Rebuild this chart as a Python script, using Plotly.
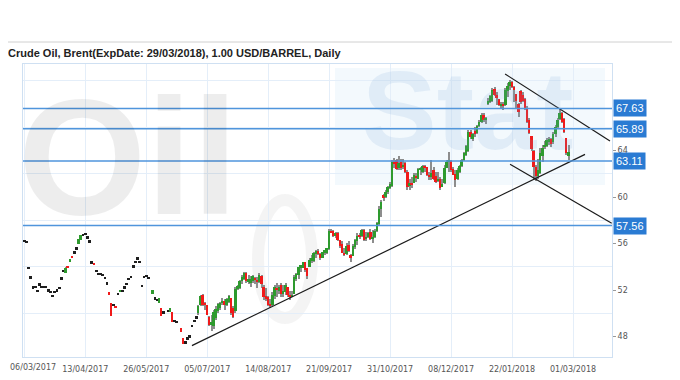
import plotly.graph_objects as go

# ---------------- data ----------------
tick_labels = ["06/03/2017", "13/04/2017", "26/05/2017", "05/07/2017", "14/08/2017",
               "21/09/2017", "31/10/2017", "08/12/2017", "22/01/2018", "01/03/2018"]
tick_bars = [0, 28, 56, 84, 112, 140, 168, 196, 224, 252]

opens = [
    56.25, 56.17, 53.93, 53.10, 52.25, 52.30, 51.96, 52.50, 52.30, 52.30,
    52.30, 51.99, 51.87, 51.53, 51.87, 51.99, 52.21, 53.02, 53.67, 53.50,
    54.05, 54.45, 54.95, 55.26, 55.60, 56.00, 56.30, 56.75, 56.83, 56.55,
    56.20, 54.40, 54.30, 53.65, 53.39, 53.39, 53.30, 53.07, 52.59, 51.75,
    50.90, 50.73, 50.60, 51.67, 51.90, 51.96, 52.25, 52.55, 53.00, 53.13,
    54.05, 54.45, 54.74, 54.45, 52.36, 53.16, 53.22, 53.07, None, 51.65,
    51.30, 51.20, 50.87, 50.50, 50.10, None, 50.20, 50.15, 50.10, 49.35,
    49.29, None, 48.77, 47.86, 47.52, 47.86, 48.03, 48.92, 49.38, 49.67,
    50.0, 50.7, 51.6, 50.9, 50.7, 49.7, 49.0, 48.9, 49.6, 50.2,
    50.5, 50.9, 51.1, 50.7, 51.0, 51.3, 50.5, 50.2, 52.2, 52.2,
    52.8, 53.0, 53.5, 52.8, 52.6, 52.8, 53.0, 52.9, 52.7, 53.2,
    52.3, 51.5, 51.4, 50.8, 50.7, 51.5, 52.2, 51.9, 52.4, 51.7,
    51.8, 52.3, 51.6, 51.5, 51.7, 53.0, 53.3, 54.0, 53.9, 54.4,
    53.9, 54.0, 54.6, 54.5, 55.2, 55.3, 55.1, 54.8, 55.3, 55.2,
    55.5, 57.1, 57.1, 56.7, 56.9, 56.3, 56.0, 55.2, 55.1, 55.9,
    55.0, 54.9, 55.7, 56.2, 56.7, 56.7, 57.2, 56.4, 56.6, 57.0,
    56.4, 56.6, 57.1, 57.7, 59.0, 60.2, 60.0, 60.4, 60.8, 61.0,
    63.0, 63.2, 62.5, 63.0, 62.6, 62.9, 62.2, 61.0, 61.2, 61.2,
    61.8, 61.6, 62.3, 62.2, 62.7, 62.6, 61.9, 61.7, 62.3, 61.8,
    61.4, 61.6, 60.9, 61.2, 62.5, 63.0, 63.1, 62.4, 62.0, 61.6,
    62.2, 62.7, 63.2, 63.6, 64.0, 65.6, 65.0, 65.7, 65.5, 66.1,
    66.5, 67.1, 66.6, 68.0, 68.2, 68.3, 69.3, 68.8, 68.4, 67.9,
    68.0, 67.9, 69.1, 69.6, 69.9, 69.5, 68.9, 68.0, 69.1, 68.8,
    68.4, 67.6, 66.6, 65.3, 64.0, 62.6, 61.8, 62.1, 63.5, 64.3,
    64.4, 64.7, 65.0, 64.7, 65.4, 66.0, 66.7, 67.2, 66.7, 65.1,
    63.5,
]
highs = [
    56.25, 56.17, 53.93, 53.10, 52.25, 52.30, 51.96, 52.50, 52.30, 52.30,
    52.30, 51.99, 51.87, 51.53, 51.87, 51.99, 52.21, 53.02, 53.67, 53.95,
    54.05, 54.70, 54.95, 55.26, 55.60, 56.40, 56.75, 56.75, 56.83, 56.55,
    56.20, 54.40, 54.30, 53.65, 53.39, 53.39, 53.30, 53.07, 52.59, 51.75,
    50.90, 50.73, 50.60, 51.67, 52.00, 51.96, 52.25, 52.55, 53.00, 53.13,
    54.05, 54.45, 54.74, 54.45, 52.36, 53.16, 53.22, 53.07, None, 52.00,
    51.30, 51.20, 51.35, 50.50, 50.10, None, 50.20, 50.50, 50.10, 49.35,
    49.29, None, 48.77, 47.86, 47.52, 47.86, 48.03, 48.92, 49.38, 49.67,
    50.7, 51.6, 51.7, 51.0, 50.73, 49.8, 49.9, 50.3, 50.6, 50.87,
    51.0, 51.3, 51.2, 51.3, 51.6, 51.35, 50.6, 52.3, 52.45, 52.9,
    53.3, 53.6, 53.6, 53.3, 53.2, 53.3, 53.1, 53.1, 53.5, 53.3,
    52.4, 52.2, 51.5, 51.2, 51.8, 52.45, 52.6, 52.45, 52.6, 52.45,
    52.6, 52.3, 51.9, 51.9, 53.3, 53.5, 54.0, 54.2, 54.45, 54.45,
    53.9, 54.75, 55.0, 55.3, 55.45, 55.5, 55.2, 55.3, 55.45, 55.6,
    57.3, 57.3, 57.2, 57.0, 57.0, 56.3, 56.2, 55.6, 56.05, 56.2,
    55.1, 56.0, 56.4, 56.9, 56.9, 57.3, 57.3, 57.0, 57.0, 57.3,
    57.2, 57.3, 57.9, 59.2, 59.75, 60.3, 60.6, 61.0, 61.3, 63.2,
    63.4, 63.3, 63.5, 63.3, 63.3, 63.05, 62.3, 61.6, 61.75, 62.05,
    62.05, 62.5, 62.6, 62.76, 62.76, 62.6, 62.2, 63.2, 62.6, 62.2,
    62.2, 61.75, 61.6, 62.76, 63.2, 63.9, 63.2, 62.6, 62.3, 62.5,
    62.76, 63.3, 63.9, 64.5, 65.77, 65.8, 65.5, 66.0, 66.2, 66.6,
    67.2, 67.2, 66.9, 68.5, 68.8, 69.35, 69.5, 69.07, 68.4, 68.2,
    68.2, 69.35, 69.8, 70.07, 70.0, 69.6, 68.9, 68.07, 69.2, 69.0,
    68.5, 67.8, 66.8, 65.3, 64.05, 62.8, 63.3, 64.2, 64.5, 64.8,
    65.1, 65.2, 65.1, 65.6, 66.2, 66.8, 67.6, 67.3, 66.8, 65.1,
    64.5,
]
lows = [
    56.25, 56.17, 53.93, 53.10, 52.25, 52.30, 51.96, 52.50, 52.30, 52.30,
    52.30, 51.99, 51.87, 51.53, 51.87, 51.99, 52.21, 53.02, 53.67, 53.50,
    53.95, 54.45, 54.85, 55.26, 55.60, 56.00, 56.30, 56.75, 56.83, 56.55,
    56.20, 54.40, 54.25, 53.65, 53.39, 53.39, 53.30, 53.07, 52.59, 51.70,
    49.75, 50.73, 50.55, 51.67, 51.90, 51.96, 52.25, 52.55, 53.00, 53.13,
    54.05, 54.45, 54.74, 54.45, 52.36, 53.16, 53.22, 53.07, None, 51.65,
    51.30, 51.20, 50.87, 49.80, 50.10, None, 50.20, 50.15, 49.30, 49.35,
    49.29, None, 48.38, 47.35, 47.52, 47.86, 48.03, 48.92, 49.38, 49.67,
    49.9, 50.6, 50.6, 50.3, 49.87, 48.9, 48.45, 48.7, 49.4, 50.0,
    50.3, 50.7, 50.3, 50.6, 50.9, 49.9, 49.6, 50.0, 52.0, 52.1,
    52.5, 52.9, 52.6, 52.5, 52.3, 52.6, 52.5, 52.2, 52.6, 52.2,
    51.15, 51.1, 50.6, 50.45, 50.6, 51.2, 51.45, 51.7, 51.45, 51.45,
    51.6, 51.45, 51.15, 51.45, 51.7, 52.8, 53.0, 53.6, 53.9, 53.6,
    53.0, 54.0, 54.3, 54.45, 54.75, 55.0, 54.6, 54.75, 55.0, 55.15,
    55.45, 56.9, 56.6, 56.5, 56.2, 55.6, 55.2, 54.9, 55.0, 55.3,
    54.45, 54.9, 55.5, 55.9, 56.4, 56.6, 56.2, 56.2, 56.5, 56.3,
    56.05, 56.5, 57.0, 57.6, 58.3, 59.7, 59.9, 60.3, 60.7, 60.9,
    62.5, 62.3, 62.3, 62.3, 62.4, 62.1, 60.6, 60.6, 60.8, 61.2,
    61.3, 61.6, 61.9, 62.05, 62.2, 61.8, 61.5, 61.5, 61.5, 61.2,
    61.3, 60.6, 60.9, 61.1, 62.5, 62.2, 62.2, 61.9, 60.9, 61.5,
    62.05, 62.6, 63.1, 63.5, 63.9, 65.0, 64.8, 65.2, 65.4, 66.0,
    66.4, 66.5, 66.3, 67.9, 68.1, 68.2, 68.7, 67.9, 67.8, 67.6,
    67.5, 67.8, 68.6, 69.2, 69.35, 68.2, 67.6, 66.9, 68.0, 68.2,
    67.5, 66.35, 65.4, 64.0, 61.5, 61.4, 61.6, 62.0, 63.05, 64.1,
    64.3, 64.5, 64.3, 64.6, 65.2, 65.9, 66.6, 66.35, 65.5, 63.6,
    63.2,
]
closes = [
    56.25, 56.17, 53.93, 53.10, 52.25, 52.30, 51.96, 52.50, 52.30, 52.30,
    52.30, 51.99, 51.87, 51.53, 51.87, 51.99, 52.21, 53.02, 53.67, 53.93,
    53.95, 54.70, 54.85, 55.26, 55.60, 56.40, 56.75, 56.75, 56.83, 56.55,
    56.20, 54.40, 54.25, 53.65, 53.39, 53.39, 53.30, 53.07, 52.59, 51.70,
    49.75, 50.73, 50.55, 51.67, 52.00, 51.96, 52.25, 52.55, 53.00, 53.13,
    54.05, 54.45, 54.74, 54.45, 52.36, 53.16, 53.22, 53.07, None, 52.00,
    51.30, 51.20, 51.35, 49.80, 50.10, None, 50.20, 50.50, 49.30, 49.35,
    49.29, None, 48.38, 47.35, 47.52, 47.86, 48.03, 48.92, 49.38, 49.67,
    50.6, 51.5, 50.7, 50.7, 49.9, 49.0, 49.3, 50.1, 50.4, 50.8,
    50.9, 51.1, 50.7, 51.2, 51.5, 50.0, 49.7, 52.1, 52.3, 52.8,
    53.1, 53.5, 52.8, 52.9, 53.0, 53.2, 52.9, 52.7, 53.3, 52.5,
    51.4, 51.2, 50.7, 50.6, 51.6, 52.3, 52.1, 52.3, 51.7, 51.9,
    52.4, 51.6, 51.5, 51.6, 53.1, 53.4, 54.0, 54.1, 54.4, 53.7,
    53.2, 54.6, 54.7, 55.2, 55.3, 55.2, 54.8, 55.3, 55.4, 55.6,
    57.1, 57.0, 56.7, 56.9, 56.3, 55.8, 55.2, 55.1, 55.8, 55.4,
    54.8, 55.8, 56.3, 56.7, 56.6, 57.2, 56.3, 56.6, 56.9, 56.4,
    56.6, 57.1, 57.8, 59.0, 59.6, 59.9, 60.4, 60.9, 61.1, 63.0,
    62.9, 62.4, 62.9, 62.5, 62.8, 62.2, 60.9, 61.2, 61.1, 61.9,
    61.7, 62.4, 62.5, 62.7, 62.5, 61.9, 61.7, 62.1, 61.6, 61.3,
    61.6, 60.8, 61.1, 62.5, 63.0, 63.2, 62.3, 61.9, 61.5, 62.3,
    62.7, 63.2, 63.8, 64.4, 65.6, 65.2, 65.4, 65.4, 66.1, 66.5,
    67.1, 66.6, 66.8, 68.3, 68.7, 69.2, 68.8, 68.5, 67.9, 68.0,
    67.8, 69.2, 69.6, 69.9, 69.5, 69.2, 68.3, 67.3, 68.2, 68.3,
    67.6, 66.5, 65.5, 64.1, 62.6, 61.8, 62.3, 63.8, 64.2, 64.5,
    64.9, 65.0, 64.6, 65.4, 66.0, 66.6, 67.2, 66.5, 65.6, 63.8,
    63.9,
]

level_values = [67.63, 65.89, 63.11, 57.56]
level_labels = ["67.63", "65.89", "63.11", "57.56"]

y_label_vals = [48, 52, 56, 60, 64]
y_grid_vals = [50, 54, 58, 62, 66, 70]

# analyst trend lines (bar index, price)
trend_up_x, trend_up_y = [76.98, 257.51], [47.23, 63.68]
chan_top_x, chan_top_y = [220.79, 268.98], [70.59, 64.83]
chan_bot_x, chan_bot_y = [223.08, 269.76], [62.82, 57.75]

title_text = "Crude Oil, Brent(ExpDate: 29/03/2018), 1.00 USD/BARREL, Daily"

# ---------------- styling ----------------
GREEN = "#2e9a2e"
RED = "#f01a1a"
WICK = "#8d8d8d"
DOJI = "#1e1e1e"
LEVEL = "#4f95dc"
GRID = "#e4eef9"
AXIS = "#cfe0f2"
TICKFONT = dict(family="DejaVu Sans", size=8, color="#555")

# the page places the figure 8px from the top-left corner of the window
OFF = 8
FW, FH = 680 - OFF, 380 - OFF
L, R, T, B = 23 - OFF, 68, 64 - OFF, 23
PW, PH = FW - L - R, FH - T - B


def px_x(p):
    """window pixel x -> paper x"""
    return (p - OFF - L) / PW


def px_y(p):
    """window pixel y -> paper y"""
    return (FH - B - (p - OFF)) / PH


wx, wbase, wlen = [], [], []
bx, bbase, blen, bcol, bwid = [], [], [], [], []
for i, (o, h, l, c) in enumerate(zip(opens, highs, lows, closes)):
    if o is None:
        continue
    top, bot = max(h, o, c), min(l, o, c)
    if top - bot > 0.05:
        wx.append(i); wbase.append(bot); wlen.append(top - bot)
    lo_b, hi_b = min(o, c), max(o, c)
    if hi_b - lo_b < 0.15:
        mid = (hi_b + lo_b) / 2
        lo_b, hi_b = mid - 0.075, mid + 0.075
    bx.append(i); bbase.append(lo_b); blen.append(hi_b - lo_b)
    if c > o:
        bcol.append(GREEN); bwid.append(0.9)
    elif c < o:
        bcol.append(RED); bwid.append(0.9)
    else:
        bcol.append(DOJI); bwid.append(1.25)

fig = go.Figure()
fig.add_trace(go.Bar(x=wx, y=wlen, base=wbase, width=0.5,
                     marker=dict(color=WICK, line=dict(width=0)),
                     hoverinfo="skip", showlegend=False))
fig.add_trace(go.Bar(x=bx, y=blen, base=bbase, width=bwid,
                     marker=dict(color=bcol, line=dict(width=0)),
                     hoverinfo="skip", showlegend=False))

for tx, ty in [(trend_up_x, trend_up_y), (chan_top_x, chan_top_y), (chan_bot_x, chan_bot_y)]:
    fig.add_trace(go.Scatter(x=tx, y=ty, mode="lines",
                             line=dict(color="#1a1a1a", width=1.2),
                             hoverinfo="skip", showlegend=False, cliponaxis=False))

shapes = []
# soft light blue glow behind the "Stat" watermark
shapes.append(dict(type="rect", xref="paper", yref="paper", layer="below",
                   x0=px_x(335), x1=px_x(605), y0=px_y(185), y1=px_y(68),
                   fillcolor="rgba(215,234,248,0.30)", line=dict(width=0)))
# faint oil-drop ring of the watermark logo
shapes.append(dict(type="circle", xref="paper", yref="paper", layer="below",
                   x0=px_x(258), x1=px_x(312), y0=px_y(318), y1=px_y(200),
                   line=dict(color="rgba(0,0,0,0.045)", width=12)))
for v in level_values:
    shapes.append(dict(type="line", xref="paper", yref="y", x0=0, x1=1, y0=v, y1=v,
                       line=dict(color=LEVEL, width=1.5)))
# separator line above the title
shapes.append(dict(type="line", xref="paper", yref="paper",
                   x0=px_x(OFF), x1=px_x(680), y0=px_y(42), y1=px_y(42),
                   line=dict(color="#d0d0d0", width=1)))

annotations = []
# watermark
annotations.append(dict(text="<b>Oil</b>", xref="paper", yref="paper",
                        x=px_x(128), y=px_y(157), xanchor="center", yanchor="middle",
                        showarrow=False,
                        font=dict(family="Liberation Sans", size=165, color="rgba(0,0,0,0.07)")))
annotations.append(dict(text="<b>Stat</b>", xref="paper", yref="paper",
                        x=px_x(468), y=px_y(110), xanchor="center", yanchor="middle",
                        showarrow=False,
                        font=dict(family="Liberation Sans", size=112, color="rgba(110,165,215,0.14)")))
for v, t in zip(level_values, level_labels):
    annotations.append(dict(text=t, xref="paper", yref="y", x=1, y=v, xanchor="left",
                            yanchor="middle", xshift=1, showarrow=False,
                            bgcolor="#2a7bd3", borderpad=2,
                            font=dict(family="Liberation Sans", size=11, color="white")))
# first date label sits at the very left edge of the window
annotations.append(dict(text=tick_labels[0], xref="paper", yref="paper",
                        x=px_x(OFF), y=px_y(368), xanchor="left", yanchor="middle",
                        showarrow=False, font=TICKFONT))
axis_ticktext = [""] + tick_labels[1:]

fig.update_layout(
    width=FW, height=FH,
    margin=dict(l=L, r=R, t=T, b=B, autoexpand=False),
    paper_bgcolor="white", plot_bgcolor="white",
    barmode="overlay", bargap=0,
    title=dict(text="<b>" + title_text + "</b>", x=0, xanchor="left",
               y=1 - (53 - OFF) / FH, yanchor="middle", yref="container",
               font=dict(family="Liberation Sans", size=11, color="#222")),
    xaxis=dict(range=[-0.6, 269.9], tickmode="array", tickvals=tick_bars, ticktext=axis_ticktext,
               automargin=False, ticklabelstandoff=4,
               showgrid=True, gridcolor=GRID, gridwidth=1, zeroline=False,
               showline=True, linecolor=AXIS, linewidth=1, mirror=True,
               ticks="", tickfont=TICKFONT),
    yaxis=dict(range=[46.25, 71.45], side="right", tickmode="array", tickvals=y_label_vals,
               automargin=False,
               showgrid=False, zeroline=False,
               minor=dict(tickmode="array", tickvals=y_grid_vals, showgrid=True,
                          gridcolor=GRID, ticks=""),
               showline=True, linecolor=AXIS, linewidth=1, mirror=True,
               ticks="outside", ticklen=3, tickcolor="#999",
               tickfont=TICKFONT),
    shapes=shapes, annotations=annotations,
)

fig.write_html("out.html")
